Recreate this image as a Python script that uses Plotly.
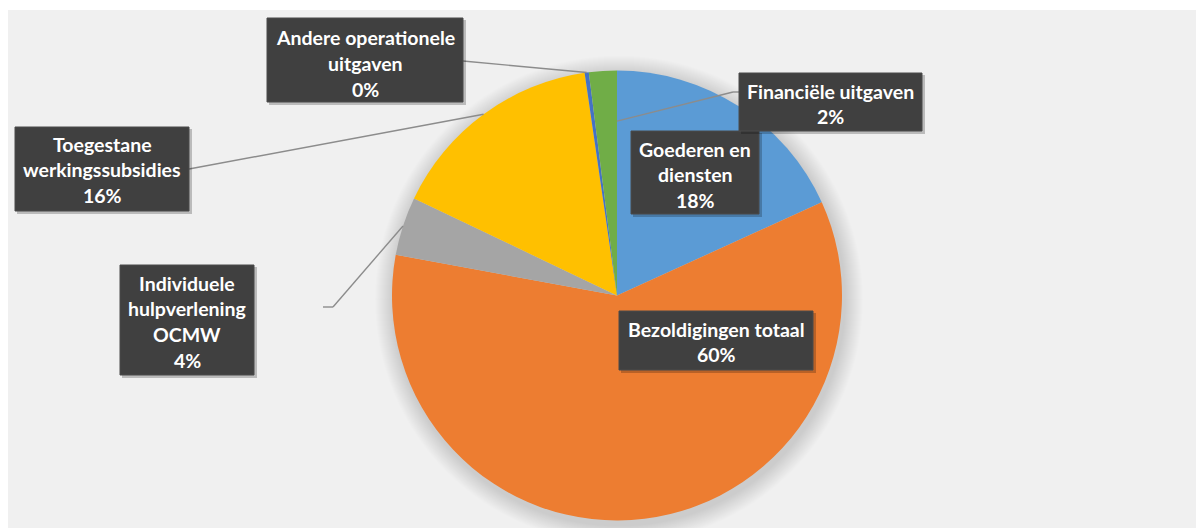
import math
import plotly.graph_objects as go

# ---- data ----
categories = [
    "Goederen en diensten",
    "Bezoldigingen totaal",
    "Individuele hulpverlening OCMW",
    "Toegestane werkingssubsidies",
    "Andere operationele uitgaven",
    "Financiële uitgaven",
]
values = [18.2, 59.7, 4.2, 15.6, 0.3, 2.0]
colors = ["#5B9BD5", "#ED7D31", "#A5A5A5", "#FFC000", "#4472C4", "#70AD47"]

# line wrapping of the data labels
wrapped = {
    "Goederen en diensten": ["Goederen en", "diensten"],
    "Bezoldigingen totaal": ["Bezoldigingen totaal"],
    "Individuele hulpverlening OCMW": ["Individuele", "hulpverlening", "OCMW"],
    "Toegestane werkingssubsidies": ["Toegestane", "werkingssubsidies"],
    "Andere operationele uitgaven": ["Andere operationele", "uitgaven"],
    "Financiële uitgaven": ["Financiële uitgaven"],
}

W, H = 1204, 528
OFF = 8  # page body margin
CX, CY, R = 617.0, 295.5, 225.0

def X(px):
    return (px - OFF) / W

def Y(py):
    return 1 - (py - OFF) / H

total = sum(values)
pcts = [round(v / total * 100) for v in values]

def slice_point(i, frac=0.5, rfrac=1.0):
    start = sum(values[:i]) / total
    a = (start + frac * values[i] / total) * 2 * math.pi
    return CX + R * rfrac * math.sin(a), CY - R * rfrac * math.cos(a)

fig = go.Figure()
fig.add_trace(go.Pie(
    labels=categories,
    values=values,
    sort=False,
    direction="clockwise",
    rotation=0,
    marker=dict(colors=colors, line=dict(width=0)),
    textinfo="none",
    hoverinfo="label+percent",
    showlegend=False,
    domain=dict(x=[X(CX - R), X(CX + R)], y=[Y(CY + R), Y(CY - R)]),
))

shapes = []
# chart area background
shapes.append(dict(type="rect", xref="paper", yref="paper", x0=0, x1=1, y0=0, y1=Y(10),
                   fillcolor="#F0F0F0", line=dict(width=0), layer="below"))
# soft pie shadow
for k in range(2, 20):
    r = R + k
    shapes.append(dict(type="circle", xref="paper", yref="paper",
                       x0=X(CX + 2 - r), x1=X(CX + 2 + r), y0=Y(CY + 4 + r), y1=Y(CY + 4 - r),
                       fillcolor="rgba(0,0,0,0.006)", line=dict(width=0), layer="below"))

# label boxes: (x0, y0, x1, y1) in pixels, first text line centre y
boxes = {
    "Andere operationele uitgaven": (267, 18, 463, 102, 38),
    "Toegestane werkingssubsidies": (15, 127, 189, 211, 144),
    "Individuele hulpverlening OCMW": (120, 265, 254, 375, 283),
    "Bezoldigingen totaal": (619, 311, 813, 370, 329),
    "Goederen en diensten": (631, 131, 759, 214, 149),
    "Financiële uitgaven": (739, 73, 922, 131, 91),
}
LINE_STEP = 25.8

# leader lines
leaders = [
    [(463, 61), slice_point(4)],
    [(189, 169), slice_point(3)],
    [(323, 307), (333, 307), slice_point(2)],
    [(739, 92), (733, 92), slice_point(5, 1.0, 0.775)],
]
for pts in leaders:
    for (ax, ay), (bx, by) in zip(pts[:-1], pts[1:]):
        shapes.append(dict(type="line", xref="paper", yref="paper",
                           x0=X(ax), y0=Y(ay), x1=X(bx), y1=Y(by),
                           line=dict(color="#8C8C8C", width=1.4), layer="above"))

annotations = []
for i, cat in enumerate(categories):
    x0, y0, x1, y1, ty = boxes[cat]
    # shadow
    shapes.append(dict(type="rect", xref="paper", yref="paper",
                       x0=X(x0 + 2), x1=X(x1 + 3), y0=Y(y1 + 3), y1=Y(y0 + 2),
                       fillcolor="rgba(0,0,0,0.22)", line=dict(width=0), layer="above"))
    shapes.append(dict(type="rect", xref="paper", yref="paper",
                       x0=X(x0), x1=X(x1), y0=Y(y1), y1=Y(y0),
                       fillcolor="#404040", line=dict(color="#4A4A4A", width=1), layer="above"))
    lines = wrapped[cat] + [f"{pcts[i]}%"]
    for j, t in enumerate(lines):
        annotations.append(dict(
            x=X((x0 + x1) / 2), y=Y(ty + j * LINE_STEP), xref="paper", yref="paper",
            text=f"<b>{t}</b>", showarrow=False, xanchor="center", yanchor="middle",
            font=dict(family="Lato, 'Open Sans', sans-serif", size=19.5, color="#FFFFFF"),
        ))

fig.update_layout(
    width=W, height=H,
    margin=dict(l=0, r=0, t=0, b=0),
    paper_bgcolor="#FFFFFF",
    plot_bgcolor="#FFFFFF",
    shapes=shapes,
    annotations=annotations,
)

fig.write_html("out.html")
